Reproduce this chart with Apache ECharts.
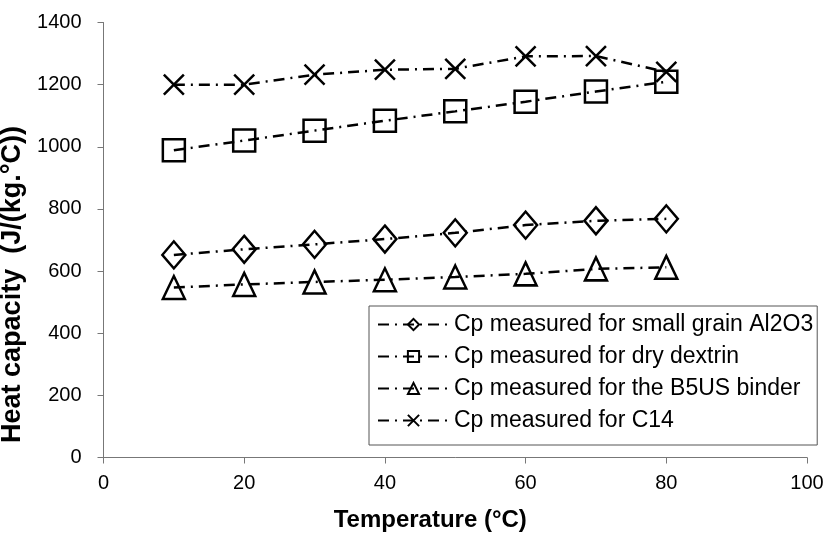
<!DOCTYPE html>
<html>
<head>
<meta charset="utf-8">
<script src="https://cdn.jsdelivr.net/npm/echarts@6/dist/echarts.min.js"></script>
<style>
  html, body { margin: 0; padding: 0; background: #fff; }
  #chart { width: 827px; height: 535px; }
</style>
</head>
<body>
<div id="chart"></div>
<script>
// ---- data ----
const temperatures = [10, 20, 30, 40, 50, 60, 70, 80];
const cpAl2O3 = [652, 670, 686, 703, 723, 748, 762, 768];
const cpDextrin = [989, 1020, 1052, 1084, 1114, 1145, 1178, 1209];
const cpB5US = [547, 557, 565, 572, 581, 591, 607, 612];
const cpC14 = [1200, 1200, 1232, 1248, 1251, 1291, 1292, 1241];
const seriesNames = [
  'Cp measured for small grain Al2O3',
  'Cp measured for dry dextrin',
  'Cp measured for the B5US binder',
  'Cp measured for C14'
];
const xTitle = 'Temperature (°C)';
const yTitle = 'Heat capacity  (J/(kg.°C))';

const FONT = "'Liberation Sans', Arial, sans-serif";
const pairs = (ys) => temperatures.map((t, i) => [t, ys[i]]);
const dash = [11, 6, 2, 6];
const X_PATH = 'path://M0,0L10,10M10,0L0,10';

function mkSeries(name, ys, symbol, size) {
  return {
    type: 'line',
    name: name,
    data: pairs(ys),
    symbol: symbol,
    symbolSize: size,
    showAllSymbol: true,
    lineStyle: { color: '#000', width: 2.5, type: dash },
    itemStyle: { color: 'transparent', borderColor: '#000', borderWidth: 2.5 },
    emphasis: { disabled: true },
    animation: false
  };
}

const chart = echarts.init(document.getElementById('chart'));
chart.setOption({
  animation: false,
  textStyle: { fontFamily: FONT },
  grid: { left: 103.5, right: 20, top: 22.5, bottom: 77.5, containLabel: false, outerBoundsMode: 'none' },
  legend: {
    left: 369, top: 306,
    orient: 'vertical',
    padding: [7, 4, 13, 8],
    itemGap: 9,
    itemWidth: 71, itemHeight: 14,
    borderColor: '#555', borderWidth: 1,
    backgroundColor: '#fff',
    textStyle: { fontSize: 23, color: '#000', fontFamily: FONT },
    data: seriesNames
  },
  xAxis: {
    type: 'value', min: 0, max: 100, interval: 20,
    name: xTitle, nameLocation: 'middle', nameGap: 51,
    nameTextStyle: { fontSize: 24, fontWeight: 'bold', color: '#000', fontFamily: FONT, padding: [0, 50, 0, 0] },
    axisLine: { show: true, lineStyle: { color: '#777', width: 1 } },
    axisTick: { show: true, inside: false, length: 6, lineStyle: { color: '#777' } },
    axisLabel: { fontSize: 20, color: '#000', margin: 16, fontFamily: FONT, formatter: (v) => String(v) },
    splitLine: { show: false }
  },
  yAxis: {
    type: 'value', min: 0, max: 1400, interval: 200,
    name: yTitle, nameLocation: 'middle', nameGap: 60,
    nameTextStyle: { fontSize: 27, fontWeight: 'bold', color: '#000', fontFamily: FONT, padding: [0, 89, 0, 0] },
    axisLine: { show: true, lineStyle: { color: '#777', width: 1 } },
    axisTick: { show: true, inside: false, length: 6, lineStyle: { color: '#777' } },
    axisLabel: { fontSize: 20, color: '#000', margin: 22, fontFamily: FONT, formatter: (v) => String(v) },
    splitLine: { show: false }
  },
  series: [
    mkSeries(seriesNames[0], cpAl2O3, 'diamond', [23, 27]),
    mkSeries(seriesNames[1], cpDextrin, 'rect', 22),
    mkSeries(seriesNames[2], cpB5US, 'triangle', [22, 23]),
    mkSeries(seriesNames[3], cpC14, X_PATH, 20)
  ]
});
</script>
</body>
</html>
